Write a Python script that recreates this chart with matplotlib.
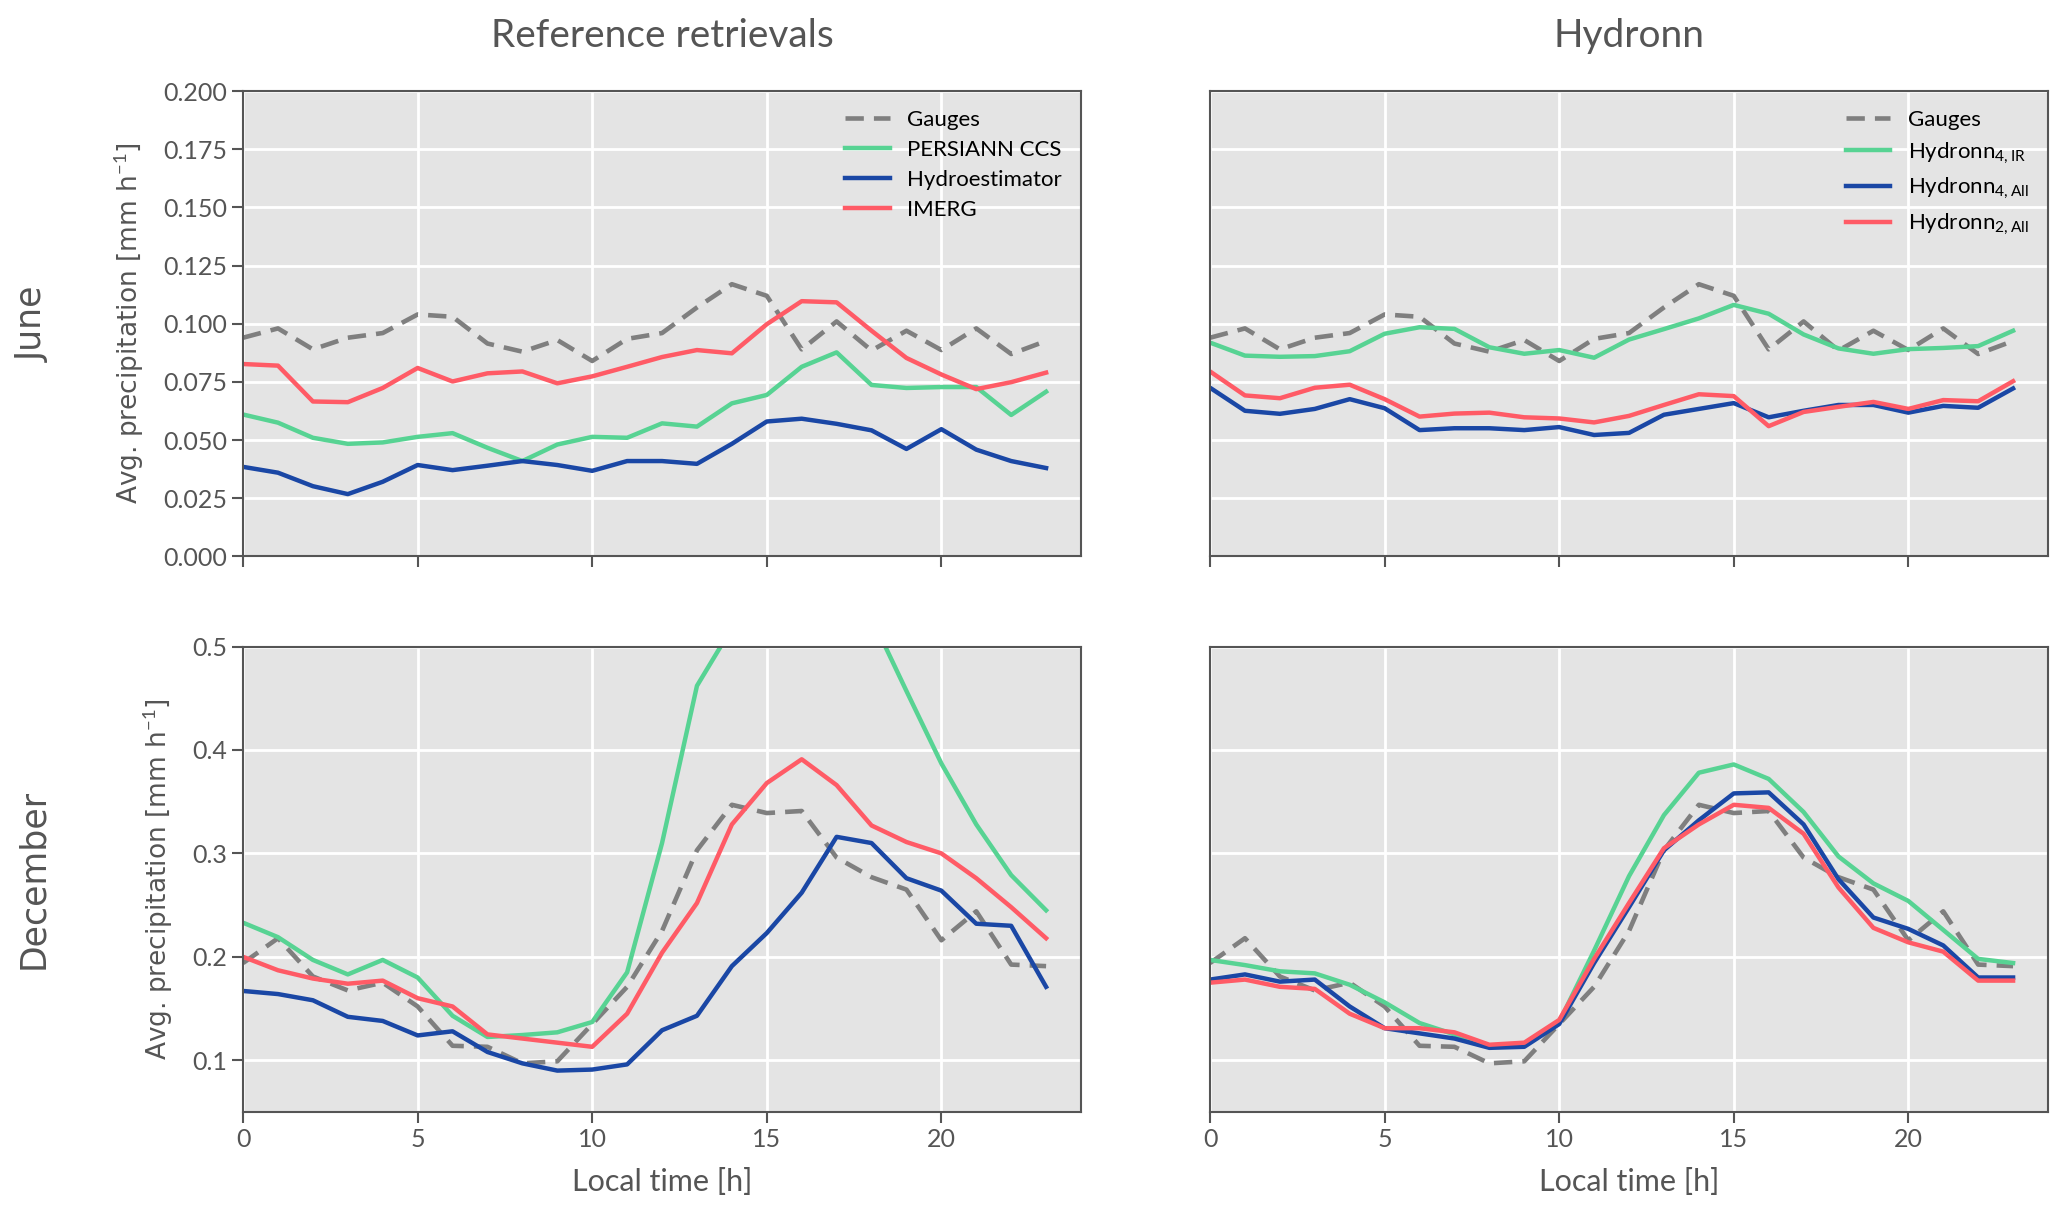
import matplotlib.pyplot as plt
import numpy as np

hours = np.arange(24)

# June
gauges_jun = [0.094, 0.098, 0.089, 0.094, 0.096, 0.104, 0.103, 0.0915, 0.088, 0.093, 0.084, 0.0935,
              0.096, 0.107, 0.117, 0.112, 0.089, 0.101, 0.0885, 0.097, 0.0887, 0.098, 0.087, 0.0926]
persiann_jun = [0.061, 0.0575, 0.051, 0.0484, 0.049, 0.0514, 0.053, 0.0467, 0.041, 0.0481, 0.0514, 0.051,
                0.0572, 0.0558, 0.0658, 0.0694, 0.0815, 0.0877, 0.0737, 0.0724, 0.0728, 0.0728, 0.0608, 0.0708]
hydroest_jun = [0.0385, 0.036, 0.0302, 0.0268, 0.0321, 0.0393, 0.0371, 0.039, 0.041, 0.0393, 0.0368, 0.041,
                0.041, 0.0398, 0.0484, 0.058, 0.0592, 0.057, 0.0542, 0.0462, 0.0547, 0.0459, 0.041, 0.038]
imerg_jun = [0.0827, 0.082, 0.0666, 0.0663, 0.0724, 0.081, 0.0752, 0.0787, 0.0795, 0.0744, 0.0774, 0.0815,
             0.0857, 0.0887, 0.0873, 0.0998, 0.1097, 0.1092, 0.097, 0.0853, 0.0782, 0.0719, 0.0749, 0.079]
hyd4ir_jun = [0.0919, 0.0863, 0.0858, 0.0861, 0.0882, 0.0957, 0.0985, 0.0978, 0.0899, 0.0871, 0.0887, 0.0854,
              0.0932, 0.0977, 0.1023, 0.1081, 0.1043, 0.0954, 0.0894, 0.0871, 0.0891, 0.0896, 0.0904, 0.097]
hyd4all_jun = [0.0725, 0.0626, 0.0613, 0.0634, 0.0676, 0.0637, 0.0543, 0.0551, 0.0551, 0.0543, 0.0556, 0.0522,
               0.0531, 0.0609, 0.0634, 0.0659, 0.0598, 0.0626, 0.0651, 0.0651, 0.0618, 0.0647, 0.0639, 0.0722]
hyd2all_jun = [0.0795, 0.0692, 0.068, 0.0725, 0.0738, 0.0676, 0.0601, 0.0614, 0.0618, 0.0598, 0.0593, 0.0576,
               0.0604, 0.0651, 0.0697, 0.0689, 0.056, 0.0621, 0.0643, 0.0664, 0.0634, 0.0672, 0.0667, 0.0753]

# December
gauges_dec = [0.194, 0.218, 0.181, 0.1675, 0.175, 0.152, 0.114, 0.113, 0.097, 0.099, 0.135, 0.171,
              0.225, 0.303, 0.347, 0.339, 0.341, 0.296, 0.277, 0.265, 0.216, 0.244, 0.1925, 0.191]
persiann_dec = [0.233, 0.219, 0.197, 0.183, 0.197, 0.180, 0.143, 0.1225, 0.1244, 0.127, 0.137, 0.185,
                0.31, 0.462, 0.518, 0.56, 0.58, 0.56, 0.528, 0.457, 0.387, 0.328, 0.279, 0.245]
hydroest_dec = [0.167, 0.164, 0.158, 0.142, 0.138, 0.124, 0.128, 0.108, 0.097, 0.090, 0.091, 0.096,
                0.129, 0.143, 0.191, 0.223, 0.262, 0.316, 0.310, 0.276, 0.264, 0.232, 0.230, 0.171]
imerg_dec = [0.200, 0.187, 0.179, 0.174, 0.177, 0.160, 0.152, 0.125, 0.121, 0.117, 0.113, 0.145,
             0.204, 0.252, 0.328, 0.368, 0.391, 0.366, 0.327, 0.311, 0.300, 0.276, 0.248, 0.218]
hyd4ir_dec = [0.197, 0.192, 0.186, 0.184, 0.173, 0.156, 0.136, 0.125, 0.113, 0.114, 0.137, 0.206,
              0.278, 0.337, 0.378, 0.386, 0.372, 0.340, 0.297, 0.271, 0.254, 0.226, 0.198, 0.194]
hyd4all_dec = [0.178, 0.183, 0.176, 0.178, 0.152, 0.131, 0.126, 0.121, 0.112, 0.113, 0.135, 0.194,
               0.248, 0.303, 0.332, 0.358, 0.359, 0.328, 0.275, 0.238, 0.227, 0.211, 0.180, 0.180]
hyd2all_dec = [0.175, 0.178, 0.171, 0.169, 0.145, 0.131, 0.131, 0.127, 0.115, 0.117, 0.139, 0.198,
               0.252, 0.305, 0.328, 0.347, 0.344, 0.319, 0.267, 0.228, 0.214, 0.205, 0.177, 0.177]

ref_labels = ["Gauges", "PERSIANN CCS", "Hydroestimator", "IMERG"]
hyd_labels = ["Gauges", r"Hydronn$_{4,\mathrm{IR}}$", r"Hydronn$_{4,\mathrm{All}}$", r"Hydronn$_{2,\mathrm{All}}$"]
col_titles = ["Reference retrievals", "Hydronn"]
row_titles = ["June", "December"]

GRAY = "#7f7f7f"
GREEN = "#57d393"
BLUE = "#1a47a5"
RED = "#ff5b66"
TXT = "#555555"

plt.rcParams['font.family'] = ['Lato', 'DejaVu Sans']
plt.rcParams['mathtext.fontset'] = 'custom'
plt.rcParams['mathtext.rm'] = 'Lato'

fig, axs = plt.subplots(2, 2, figsize=(20.67, 12.17), dpi=100, sharex=True, sharey='row')
fig.subplots_adjust(left=0.1176, right=0.9908, top=0.9252, bottom=0.0863, wspace=0.154, hspace=0.1935)

panels = [
    [(gauges_jun, persiann_jun, hydroest_jun, imerg_jun, ref_labels),
     (gauges_jun, hyd4ir_jun, hyd4all_jun, hyd2all_jun, hyd_labels)],
    [(gauges_dec, persiann_dec, hydroest_dec, imerg_dec, ref_labels),
     (gauges_dec, hyd4ir_dec, hyd4all_dec, hyd2all_dec, hyd_labels)],
]

for i in range(2):
    for j in range(2):
        ax = axs[i, j]
        g, a, b, c, labels = panels[i][j]
        ax.set_facecolor("#e4e4e4")
        ax.grid(True, color="white", lw=2)
        ax.set_axisbelow(True)
        ax.plot(hours, g, color=GRAY, ls="--", lw=3.3, dashes=(4, 2.2), label=labels[0])
        ax.plot(hours, a, color=GREEN, lw=3.2, label=labels[1])
        ax.plot(hours, b, color=BLUE, lw=3.2, label=labels[2])
        ax.plot(hours, c, color=RED, lw=3.2, label=labels[3])
        ax.set_xlim(0, 24)
        ax.set_xticks([0, 5, 10, 15, 20])
        for s in ax.spines.values():
            s.set_color(TXT)
            s.set_linewidth(1.5)
        ax.tick_params(colors=TXT, labelsize=18, length=8, width=1.5, direction="out")
        if i == 0:
            ax.legend(loc="upper right", frameon=False, fontsize=16, handlelength=2.0,
                      labelspacing=0.45, borderaxespad=0.45)
        if i == 1:
            ax.set_xlabel("Local time [h]", fontsize=22, color=TXT, labelpad=12)

axs[0, 0].set_ylim(0, 0.2)
axs[0, 0].set_yticks(np.arange(0, 0.2001, 0.025))
axs[0, 0].yaxis.set_major_formatter(plt.FormatStrFormatter('%.3f'))
axs[1, 0].set_ylim(0.05, 0.5)
axs[1, 0].set_yticks([0.1, 0.2, 0.3, 0.4, 0.5])
axs[1, 0].yaxis.set_major_formatter(plt.FormatStrFormatter('%.1f'))
for ax in axs[:, 1]:
    ax.tick_params(axis="y", left=False, labelleft=False)

for i in range(2):
    axs[i, 0].set_ylabel(r"Avg. precipitation [mm h$^{-1}$]", fontsize=19, color=TXT,
                         family="DejaVu Sans", labelpad=12)

for j in range(2):
    axs[0, j].set_title(col_titles[j], fontsize=28, color=TXT, pad=32)

for i in range(2):
    pos = axs[i, 0].get_position()
    fig.text(0.016, (pos.y0 + pos.y1) / 2, row_titles[i], rotation=90, fontsize=25,
             color=TXT, family="DejaVu Sans", ha="center", va="center")

fig.savefig("out.png", dpi=100)
